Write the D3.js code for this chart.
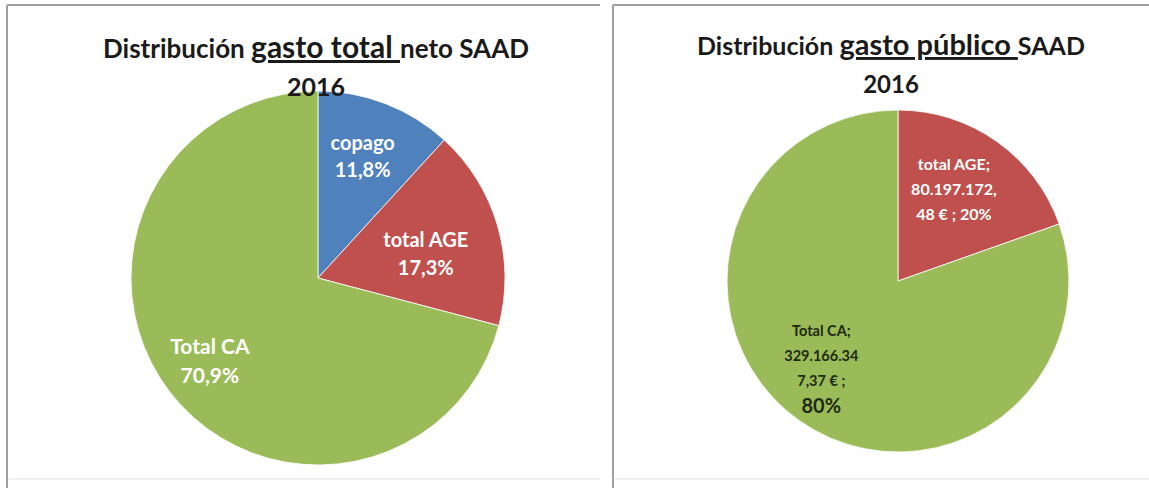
<!DOCTYPE html>
<html>
<head>
<meta charset="utf-8">
<script src="https://cdn.jsdelivr.net/npm/d3@7"></script>
<style>
  body { margin: 0; background: #fff; }
  svg { display: block; }
  text { font-family: Lato, "Open Sans", sans-serif; }
</style>
</head>
<body>
<svg width="1149" height="488"></svg>
<script>
// left chart: gasto total neto (percent)
var totalCategories = ["copago", "total AGE", "Total CA"];
var totalValues = [11.8, 17.3, 70.9];
var totalLabels = [["copago", "11,8%"], ["total AGE", "17,3%"], ["Total CA", "70,9%"]];

// right chart: gasto público (euros)
var publicCategories = ["total AGE", "Total CA"];
var publicValues = [80197172.48, 329166347.37];
var publicLabels = [["total AGE;", "80.197.172,", "48 € ; 20%"], ["Total CA;", "329.166.34", "7,37 € ;", "80%"]];

var sliceColors = {"copago": "#4f81bd", "total AGE": "#c0504d", "Total CA": "#9bbb59"};

var svg = d3.select("svg");

// panel frames
function frame(x0, x1) {
	svg.append("line").attr("x1", x0).attr("y1", 5).attr("x2", x1).attr("y2", 5)
		.attr("stroke", "#a0a0a0").attr("stroke-width", 2);
	svg.append("line").attr("x1", x0).attr("y1", 5).attr("x2", x0).attr("y2", 488)
		.attr("stroke", "#a0a0a0").attr("stroke-width", 2);
	svg.append("line").attr("x1", x0 + 2).attr("y1", 479).attr("x2", x1).attr("y2", 479)
		.attr("stroke", "#f0f0f0").attr("stroke-width", 2);
}
frame(7, 600);
frame(613, 1149);

function title(cx, y, pre, bold, post, size) {
	var t = svg.append("text").attr("x", cx).attr("y", y)
		.attr("text-anchor", "middle").attr("fill", "#1a1a1a").attr("font-weight", "bold");
	t.append("tspan").attr("font-size", size + "px").text(pre);
	t.append("tspan").attr("font-size", (size + 4) + "px").attr("text-decoration", "underline").text(bold);
	t.append("tspan").attr("font-size", size + "px").text(post);
	svg.append("text").attr("x", cx).attr("y", y + 38)
		.attr("text-anchor", "middle").attr("fill", "#1a1a1a")
		.attr("font-weight", "bold").attr("font-size", (size - 1) + "px").text("2016");
}

function drawPie(cx, cy, r, cats, vals, labels, layout, textColors) {
	var g = svg.append("g").attr("transform", "translate(" + cx + "," + cy + ")");
	var pie = d3.pie().sort(null).value(function(d) { return d; });
	var arcs = pie(vals);
	var arc = d3.arc().innerRadius(0).outerRadius(r);

	g.selectAll("path").data(arcs).enter().append("path")
		.attr("d", arc)
		.attr("fill", function(d, i) { return sliceColors[cats[i]]; })
		.attr("stroke", "#fff").attr("stroke-width", 0.8);

	arcs.forEach(function(d, i) {
		var L = layout[i];
		var a = (d.startAngle + d.endAngle) / 2 + L.shift * Math.PI / 180;
		var rr = r * L.k;
		var x = Math.sin(a) * rr, y = -Math.cos(a) * rr;
		var lines = labels[i];
		var y0 = y - (lines.length - 1) * L.lh / 2;
		var t = g.append("text").attr("text-anchor", "middle")
			.attr("fill", textColors[i]).attr("font-weight", "bold");
		lines.forEach(function(s, j) {
			var fs = (j == lines.length - 1 && L.lastSize) ? L.lastSize : L.size;
			t.append("tspan").attr("x", x).attr("y", y0 + j * L.lh)
				.attr("dy", "0.35em")
				.attr("font-size", fs + "px")
				.text(s);
		});
	});
}

drawPie(318, 278, 187, totalCategories, totalValues, totalLabels,
	[{shift: -1, k: 0.69, lh: 27, size: 20}, {shift: 4, k: 0.59, lh: 28, size: 20},
	 {shift: 0, k: 0.73, lh: 29, size: 21}],
	["#fff", "#fff", "#fff"]);

drawPie(898, 281, 171, publicCategories, publicValues, publicLabels,
	[{shift: -4, k: 0.63, lh: 25, size: 16}, {shift: 6, k: 0.68, lh: 25, size: 14.5, lastSize: 20}],
	["#fff", "#1e2a10"]);

// titles on top so "2016" sits over the pie edge
title(316, 58, "Distribución ", "gasto total ", "neto SAAD", 26);
title(891, 55, "Distribución ", "gasto público ", "SAAD", 25);
</script>
</body>
</html>
